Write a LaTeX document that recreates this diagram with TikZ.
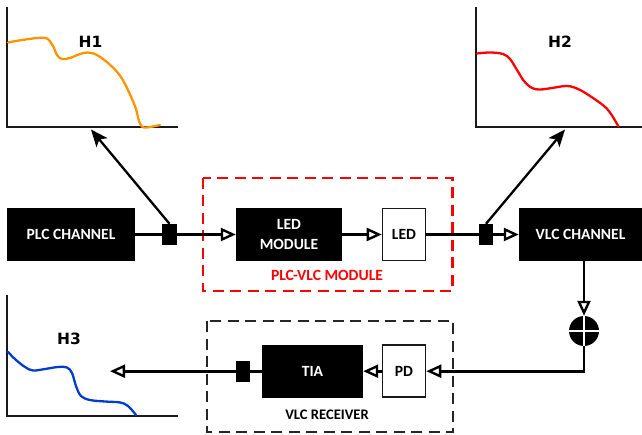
\documentclass[tikz,border=0pt]{standalone}
\usepackage{fontspec}
\setmainfont{Carlito}
\newfontfamily\hfont{DejaVu Sans}
\usetikzlibrary{arrows.meta}
\tikzset{
  blackbox/.style={draw=none,fill=black,text=white,font=\bfseries\fontsize{15.6}{20}\selectfont,align=center,inner sep=0pt},
  whitebox/.style={draw=black!90,line width=1.6pt,fill=white,text=black,font=\bfseries\fontsize{15.6}{19}\selectfont,align=center,inner sep=0pt},
  tapbox/.style={fill=black,minimum width=14.5pt,minimum height=21pt,inner sep=0pt},
  sig/.style={line width=2.7pt,-{Triangle[open,length=15pt,width=13pt,line width=2.4pt]}},
  plain/.style={line width=2.7pt},
  probe/.style={line width=2.3pt,-{Stealth[length=17pt,width=14pt,inset=4pt]}},
  axis/.style={line width=2pt,black!90},
  curve/.style={line width=2.3pt,line cap=round,line join=round},
  hlabel/.style={font=\hfont\bfseries\fontsize{15.5}{17}\selectfont,inner sep=0pt},
  frame/.style={line width=1.5pt,dash pattern=on 11pt off 6.5pt},
  caption/.style={font=\bfseries\fontsize{15.6}{17}\selectfont,inner sep=0pt}
}
\begin{document}
\begin{tikzpicture}[x=1pt,y=-1pt]
\useasboundingbox (0,0) rectangle (642,435);
% frames
\draw[frame,red,line width=2.1pt] (203,178) rectangle (452.5,291);
\draw[frame,black!85] (207,321) rectangle (453,432);
% blocks
\node[blackbox,minimum width=128pt,minimum height=53pt] (plc) at (71,234.5) {PLC CHANNEL};
\node[tapbox] (tapa) at (169.5,234.5) {};
\node[blackbox,minimum width=106pt,minimum height=53pt] (ledmod) at (289,234.5) {LED\\MODULE};
\node[whitebox,minimum width=43pt,minimum height=52pt] (led) at (404,234.5) {LED};
\node[tapbox] (tapb) at (486,234.5) {};
\node[blackbox,minimum width=123pt,minimum height=53pt] (vlc) at (580.5,234.5) {VLC CHANNEL};
\node[blackbox,minimum width=101pt,minimum height=53pt] (tia) at (312.5,371.2) {TIA};
\node[whitebox,minimum width=43pt,minimum height=52pt] (pd) at (404,371.2) {PD};
\node[tapbox] (tapc) at (243,371.2) {};
\node[circle,fill=black,minimum size=30pt,inner sep=0pt,
  path picture={\draw[white,line width=1.3pt] (path picture bounding box.north) -- (path picture bounding box.south)
  (path picture bounding box.west) -- (path picture bounding box.east);}] (sum) at (584,331) {};
\node[caption,text=red] (modcap) at (327,275) {PLC-VLC MODULE};
\node[caption,font=\bfseries\fontsize{14.6}{17}\selectfont] (reccap) at (327,415) {VLC RECEIVER};
% connectors
\coordinate (h1tip) at (91,129.5);
\coordinate (h2tip) at (565,129.5);
\coordinate (h3tip) at (110,371.2);
\coordinate (corner) at (584,371.2);
\draw[plain] (plc) -- (tapa);
\draw[sig] (tapa) -- (ledmod);
\draw[sig] (ledmod) -- (led);
\draw[plain] (led) -- (tapb);
\draw[sig] (tapb) -- (vlc);
\draw[sig] (vlc.south -| sum) -- (sum);
\draw[sig] (sum) -- (corner) -- (pd);
\draw[sig] (pd) -- (tia);
\draw[plain] (tia) -- (tapc);
\draw[sig] (tapc) -- (h3tip);
\draw[probe] (tapa.north) -- (h1tip);
\draw[probe] (tapb.north) -- (h2tip);
% plot H1
\draw[axis] (7,7) -- (7,127) -- (178,127);
\draw[curve,orange!85!yellow] plot[smooth,tension=0.6] coordinates {(8,42.5) (22,40) (38,38) (47,38.5) (53,46) (57,55) (62,59) (70,58) (80,54) (88,52.5) (97,55) (108,63) (118,73) (125,84) (132,99) (136,109) (139,121) (142,126.5) (147,127.5) (160,125)};
\node[hlabel] (hone) at (90.5,42) {H1};
% plot H2
\draw[axis] (476,7) -- (476,127) -- (642,127);
\draw[curve,red] plot[smooth,tension=0.6] coordinates {(477,53.5) (490,52.5) (503,54) (510,59) (517,70) (524,81) (532,88) (540,89.5) (552,88) (567,86) (578,89) (590,96) (604,106) (611,114) (618.5,126.5)};
\node[hlabel] (htwo) at (560,42) {H2};
% plot H3
\draw[axis] (7,295) -- (7,415.5) -- (178,415.5);
\draw[curve,blue!70!cyan!80!black] plot[smooth,tension=0.6] coordinates {(8,352) (16,360) (25,367) (33,370.5) (45,369) (58,367) (67,367.5) (72,373) (76,386) (81,396) (90,400) (105,401.5) (120,402.5) (128,406) (136,415)};
\node[hlabel] (hthree) at (69,339) {H3};
\end{tikzpicture}
\end{document}
